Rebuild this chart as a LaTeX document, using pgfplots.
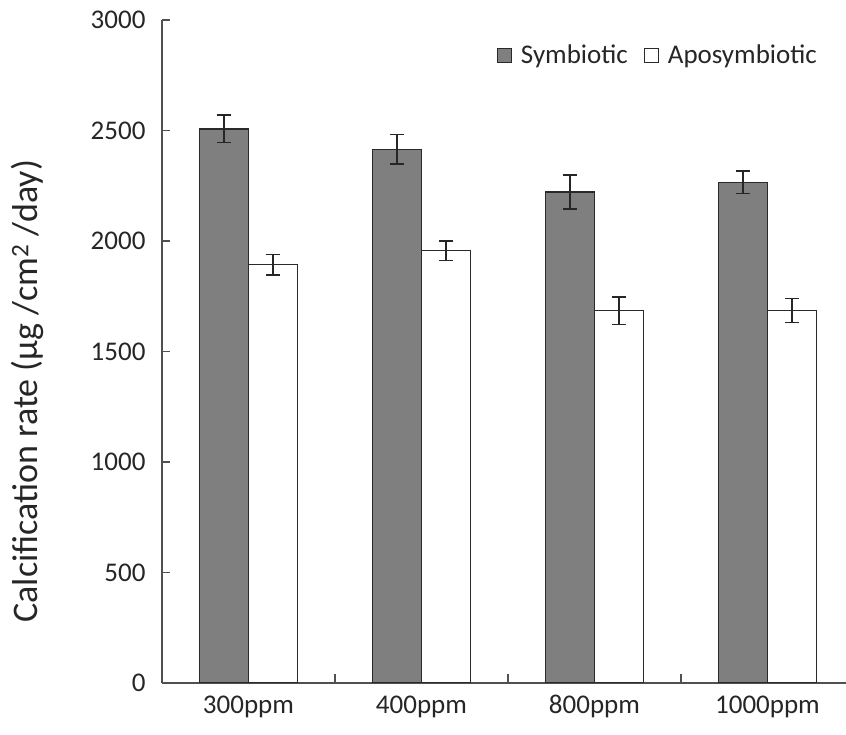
\documentclass[border=0pt]{standalone}
\usepackage{pgfplots}
\pgfplotsset{compat=1.18}
\usepackage{pgfplotstable}
\usepackage{fontspec}
\setmainfont{Carlito}
\definecolor{symb}{HTML}{7F7F7F}
\definecolor{edge}{HTML}{2A2A2A}
\definecolor{axisc}{HTML}{505050}
\pgfplotstableread{
x y e
0 2507 62
1 2415 66
2 2222 77
3 2266 51
}\symb
\pgfplotstableread{
x y e
0 1893 46
1 1956 44
2 1685 62
3 1685 54
}\apo
\begin{document}
\begin{tikzpicture}
\useasboundingbox (-162pt,-52pt) rectangle (684pt,683pt);
\begin{axis}[
  at={(0pt,0pt)}, anchor=south west,
  scale only axis, width=684pt, height=663pt,
  xmin=-0.5, xmax=3.454, ymin=0, ymax=3000,
  axis lines=left, axis line style={draw=axisc, line width=1.6pt, -},
  ybar=0pt, bar width=49pt,
  ytick={0,500,...,3000},
  xtick={0,1,2,3}, xticklabels={300ppm,400ppm,800ppm,1000ppm},
  minor xtick={0.5,1.5,2.5},
  major x tick style={draw=none},
  minor x tick style={draw=axisc, line width=1.2pt},
  y tick style={draw=axisc, line width=1.2pt},
  tick align=inside, major tick length=8pt, minor tick length=9pt,
  /pgf/number format/assume math mode=true,
  /pgf/number format/set thousands separator={},
  ticklabel style={font=\fontsize{27}{32}\selectfont, text=black!85},
  yticklabel style={xshift=-13pt},
  xticklabel style={yshift=-9pt},
  ylabel={Calcification rate (µg /cm\textsuperscript{2} /day)},
  ylabel style={font=\fontsize{36}{42}\selectfont, text=black!85, at={(axis description cs:-0.197,0.44)}, anchor=center, rotate=0},
  legend columns=2,
  legend style={draw=none, fill=none, at={(rel axis cs:0.485,0.947)}, anchor=west,
    font=\fontsize{27}{32}\selectfont, text=black!85,
    /tikz/every odd column/.append style={column sep=7pt},
    /tikz/every even column/.append style={column sep=14pt}},
  legend image code/.code={\draw[#1, line width=1pt] (0pt,-7pt) rectangle (14pt,7pt);},
  error bars/error bar style={line width=1.6pt, black!85},
  error bars/error mark options={rotate=90, mark size=7pt, line width=1.6pt, black!85},
]
\addplot[fill=symb, draw=edge, line width=1.4pt,
  error bars/.cd, y dir=both, y explicit]
  table[x=x, y=y, y error=e] {\symb};
\addlegendentry{Symbiotic}
\addplot[fill=white, draw=edge, line width=1.4pt,
  error bars/.cd, y dir=both, y explicit]
  table[x=x, y=y, y error=e] {\apo};
\addlegendentry{Aposymbiotic}
\end{axis}
\end{tikzpicture}
\end{document}
